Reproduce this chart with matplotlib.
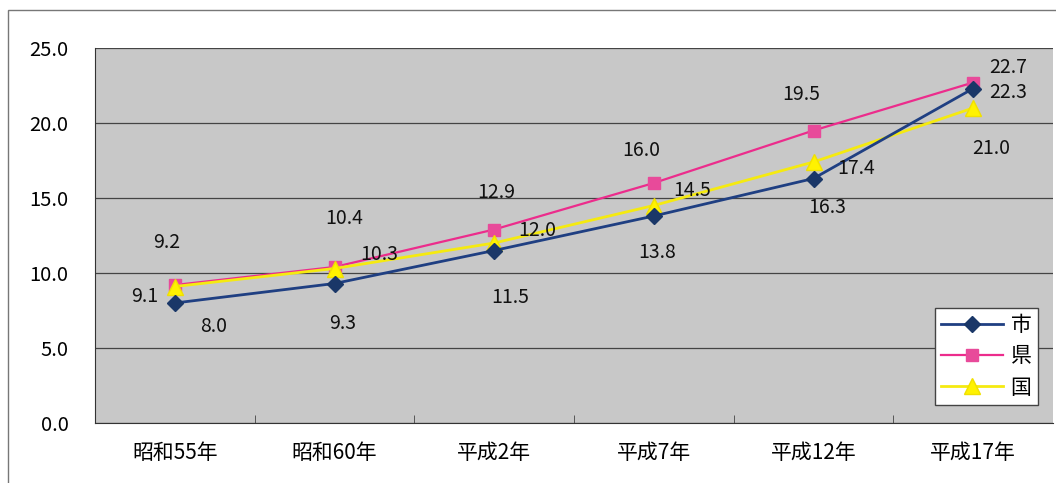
import matplotlib
matplotlib.use("Agg")
import matplotlib.pyplot as plt
from matplotlib.patches import Rectangle

plt.rcParams['font.family'] = ['Noto Sans CJK JP', 'DejaVu Sans']

categories = ['昭和55年', '昭和60年', '平成2年', '平成7年', '平成12年', '平成17年']
city = [8.0, 9.3, 11.5, 13.8, 16.3, 22.3]
pref = [9.2, 10.4, 12.9, 16.0, 19.5, 22.7]
nation = [9.1, 10.3, 12.0, 14.5, 17.4, 21.0]
series_names = ['市', '県', '国']
yticks = [0, 5, 10, 15, 20, 25]

# label offsets in pixels (dx, dy)
off_city = [(39, -23), (8, -40), (16, -47), (3, -36), (14, -29), (35, -4)]
off_pref = [(-8, 42), (10, 49), (2, 37), (-13, 33), (-12, 36), (35, 15)]
off_nation = [(-30, -10), (45, 14), (43, 13), (38, 15), (43, -7), (18, -40)]

W, H = 1056, 483
fig = plt.figure(figsize=(W / 100, H / 100), dpi=100)
fig.patch.set_facecolor('white')
fig.patches.append(Rectangle((8 / W, -0.1), 1.2, (H - 10) / H + 0.1, transform=fig.transFigure,
                             fill=False, edgecolor='#777777', linewidth=1.0))

ax = fig.add_axes([95 / W, (H - 423) / H, (1053 - 95) / W, (423 - 48) / H])
ax.set_facecolor('#c8c8c8')
x = list(range(len(categories)))

ax.plot(x, city, color='#1f3f82', marker='D', markersize=8, markerfacecolor='#1a3768',
        markeredgecolor='#1a3768', linewidth=2, label=series_names[0], zorder=4)
ax.plot(x, pref, color='#ec2c8c', marker='s', markersize=9, markerfacecolor='#e84a9a',
        markeredgecolor='#e84a9a', linewidth=1.6, label=series_names[1], zorder=3)
ax.plot(x, nation, color='#f5ea10', marker='^', markersize=11, markerfacecolor='#fff200',
        markeredgecolor='#f0e000', linewidth=2, label=series_names[2], zorder=3)

for vals, offs in ((city, off_city), (pref, off_pref), (nation, off_nation)):
    for i, (v, o) in enumerate(zip(vals, offs)):
        ax.annotate(f'{v:.1f}', (i, v), xytext=o, textcoords='offset pixels',
                    ha='center', va='center', fontsize=14, color='#111111', zorder=6)

ax.set_xlim(-0.5, len(categories) - 0.5)
ax.set_ylim(0, 25)
ax.set_yticks(yticks)
ax.set_yticklabels([f'{t:.1f}' for t in yticks], fontsize=14.5)
ax.set_xticks(x)
ax.set_xticklabels(categories, fontsize=15)
ax.tick_params(axis='x', length=0, pad=14)
ax.tick_params(axis='y', length=0, pad=19)
ax.set_xticks([i + 0.5 for i in x[:-1]], minor=True)
ax.tick_params(axis='x', which='minor', direction='in', length=6, color='#444444')
ax.yaxis.grid(True, color='#444444', linewidth=0.9)
ax.set_axisbelow(True)
for s in ['top', 'right']:
    ax.spines[s].set_visible(False)
ax.spines['left'].set_color('#333333')
ax.spines['bottom'].set_color('#333333')

leg = ax.legend(loc='lower right', bbox_to_anchor=(0.984, 0.048), fontsize=15,
                frameon=True, fancybox=False, edgecolor='#444444', framealpha=1,
                handlelength=3.0, handletextpad=0.35, borderpad=0.3, labelspacing=0.45,
                borderaxespad=0)
leg.get_frame().set_linewidth(1.0)

fig.savefig('out.png', dpi=100)
